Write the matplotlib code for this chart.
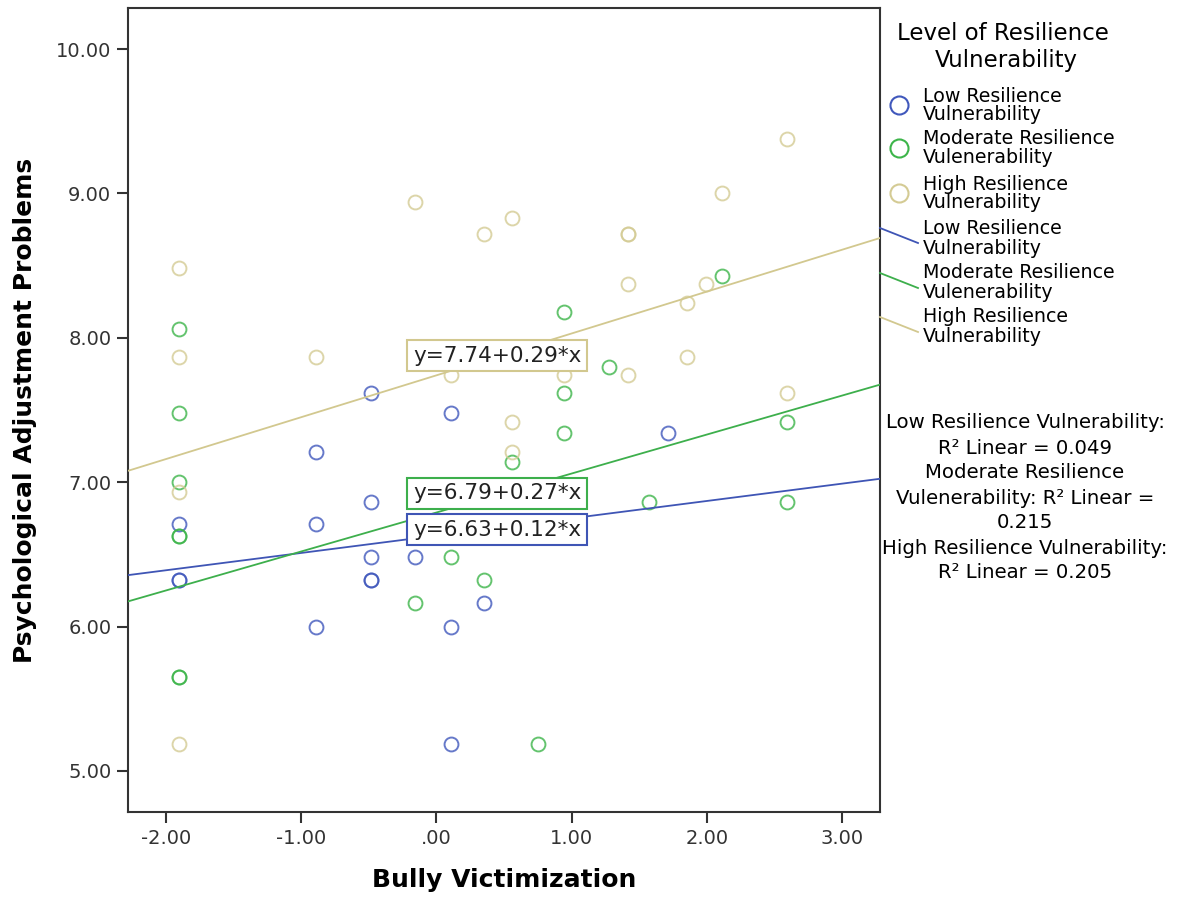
import numpy as np
import matplotlib.pyplot as plt
from matplotlib.lines import Line2D

W, H = 1183, 899

# bully victimization (x) and psychological adjustment problems (y) per group
low_x = [-0.48, 0.11, -0.89, -0.48, -0.89, -1.90, -1.90, -1.90, -0.48, -0.48, -0.48,
         -0.16, 0.35, 0.11, -0.89, 0.11, 1.71]
low_y = [7.62, 7.48, 7.21, 6.86, 6.71, 6.71, 6.32, 6.32, 6.48, 6.32, 6.32,
         6.48, 6.16, 6.00, 6.00, 5.19, 7.34]

mod_x = [-1.90, -1.90, -1.90, -1.90, -1.90, -1.90, -1.90, 0.11, 0.35, -0.16, 0.94,
         1.28, 0.94, 0.94, 0.56, 2.11, 1.57, 2.59, 2.59, 0.75]
mod_y = [8.06, 7.48, 7.00, 6.63, 6.63, 5.65, 5.65, 6.48, 6.32, 6.16, 8.18,
         7.80, 7.62, 7.34, 7.14, 8.43, 6.86, 6.86, 7.42, 5.19]

high_x = [-1.90, -1.90, -1.90, -1.90, -0.89, -0.16, 0.35, 0.56, 0.11, 0.56, 0.56,
          0.94, 1.42, 1.42, 1.42, 1.42, 1.85, 1.99, 1.85, 2.11, 2.59, 2.59]
high_y = [8.48, 7.87, 6.93, 5.19, 7.87, 8.94, 8.72, 8.83, 7.74, 7.42, 7.21,
          7.74, 8.72, 8.72, 8.37, 7.74, 8.24, 8.37, 7.87, 9.00, 9.38, 7.62]

# fitted lines (from the chart labels)
intercepts = [6.63, 6.79, 7.74]
slopes = [0.12, 0.27, 0.29]
r2 = [0.049, 0.215, 0.205]

xticks = [-2, -1, 0, 1, 2, 3]
xtick_labels = ['-2.00', '-1.00', '.00', '1.00', '2.00', '3.00']
yticks = [5, 6, 7, 8, 9, 10]
ytick_labels = ['5.00', '6.00', '7.00', '8.00', '9.00', '10.00']

group_labels = [('Low Resilience', 'Vulnerability'),
                ('Moderate Resilience', 'Vulenerability'),
                ('High Resilience', 'Vulnerability')]

colors = ['#4058BC', '#3DB54A', '#D4CB94']
line_colors = ['#3F55B5', '#3DAF4C', '#D2C88F']


def fx(px):
    return px / W


def fy(py):
    return 1 - py / H


fig, ax = plt.subplots(figsize=(W / 100, H / 100), dpi=100)
fig.subplots_adjust(left=128 / W, right=880 / W, bottom=1 - 812 / H, top=1 - 8 / H)

xlim = (-2.28, 3.28)
ax.set_xlim(*xlim)
ax.set_ylim(4.716, 10.284)

for xs, ys, c in zip([low_x, mod_x, high_x], [low_y, mod_y, high_y], colors):
    ax.plot(xs, ys, 'o', mfc='none', mec=c, ms=10, mew=1.4, alpha=0.8, zorder=2)

xx = np.array(xlim)
for a, b, c in zip(intercepts, slopes, line_colors):
    ax.plot(xx, a + b * xx, color=c, lw=1.3, zorder=3)

# equation boxes
label_y = [6.672, 6.922, 7.877]
for a, b, c, yy in zip(intercepts, slopes, line_colors, label_y):
    ax.text(-0.174, yy, 'y=%.2f+%.2f*x' % (a, b), ha='left', va='center',
            fontsize=15.5, color='#222222', zorder=5,
            bbox=dict(boxstyle='square,pad=0.27', fc='white', ec=c, lw=1.5))

ax.set_xticks(xticks)
ax.set_xticklabels(xtick_labels)
ax.set_yticks(yticks)
ax.set_yticklabels(ytick_labels)
ax.tick_params(direction='out', length=8, width=1.5, colors='#333333',
               labelsize=14, pad=4)
for s in ax.spines.values():
    s.set_linewidth(1.5)
    s.set_color('#333333')

ax.set_xlabel('Bully Victimization', fontsize=18, fontweight='bold', labelpad=15)
ax.set_ylabel('Psychological Adjustment Problems', fontsize=18, fontweight='bold',
              labelpad=14)

# legend drawn by hand, SPSS style
fig.text(fx(1003), fy(34), 'Level of Resilience', ha='center', va='center', fontsize=16.5)
fig.text(fx(1006), fy(60), 'Vulnerability', ha='center', va='center', fontsize=16.5)

marker_rows = [105, 148, 193]
for (l1, l2), c, py in zip(group_labels, colors, marker_rows):
    fig.add_artist(Line2D([fx(899)], [fy(py)], marker='o', ms=13, mfc='none', mec=c,
                          mew=1.5, transform=fig.transFigure))
    fig.text(fx(923), fy(py - 9), l1, ha='left', va='center', fontsize=13.7)
    fig.text(fx(923), fy(py + 10), l2, ha='left', va='center', fontsize=13.7)

line_rows = [236, 281, 325]
for (l1, l2), c, py in zip(group_labels, line_colors, line_rows):
    fig.add_artist(Line2D([fx(880), fx(918)], [fy(py - 8), fy(py + 7)], color=c, lw=1.3,
                          transform=fig.transFigure))
    fig.text(fx(923), fy(py - 8), l1, ha='left', va='center', fontsize=13.7)
    fig.text(fx(923), fy(py + 12), l2, ha='left', va='center', fontsize=13.7)

r2_lines = ['Low Resilience Vulnerability:',
            'R\u00b2 Linear = %.3f' % r2[0],
            'Moderate Resilience',
            'Vulenerability: R\u00b2 Linear =',
            '%.3f' % r2[1],
            'High Resilience Vulnerability:',
            'R\u00b2 Linear = %.3f' % r2[2]]
for i, t in enumerate(r2_lines):
    fig.text(fx(1025), fy(423 + i * 25), t, ha='center', va='center', fontsize=14.2)

fig.savefig('out.png', dpi=100)
